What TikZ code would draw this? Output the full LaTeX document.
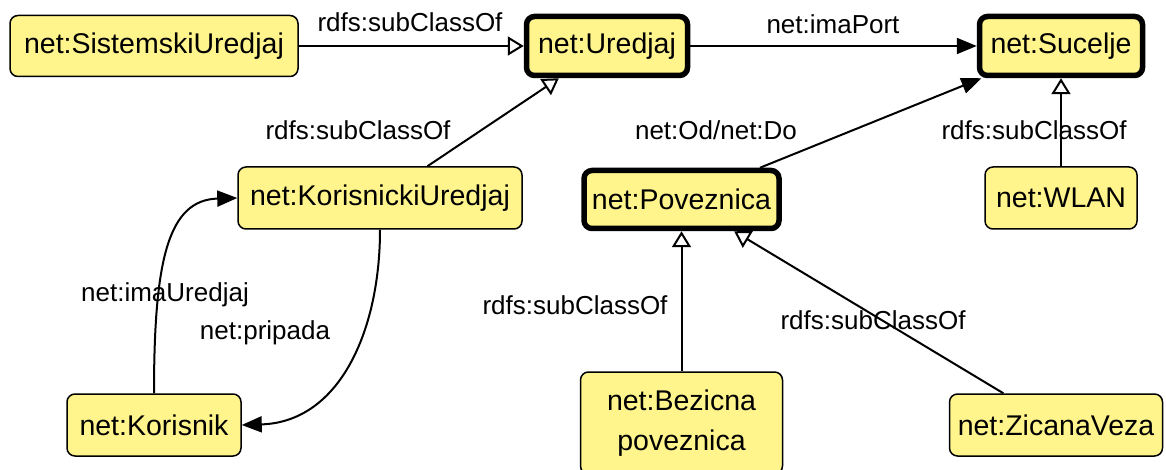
\documentclass[tikz,border=0pt]{standalone}
\usepackage{fontspec}
\setmainfont{Liberation Sans}
\usetikzlibrary{arrows.meta}
\definecolor{nodeyellow}{RGB}{255,245,140}
\newcommand{\nodefont}{\fontsize{28.5}{40}\selectfont}
\newcommand{\edgefont}{\fontsize{26}{30}\selectfont}
\tikzset{
  cls/.style={draw=black, rounded corners=8pt, fill=nodeyellow, line width=1.5pt,
    font=\nodefont, inner sep=0pt, align=center},
  keycls/.style={cls, line width=5.5pt},
  sub/.style={draw=black, line width=2pt, -{Triangle[open, length=16pt, width=19pt, line width=2pt]}},
  rel/.style={draw=black, line width=2pt, -{Triangle[length=20pt, width=16pt]}},
  lbl/.style={font=\edgefont, inner sep=0pt, text=black}
}
\begin{document}
\begin{tikzpicture}[x=1pt, y=-1pt]
\useasboundingbox (0,0) rectangle (1166,470);
% nodes
\node[cls, minimum width=288pt, minimum height=61pt] (sis) at (154,46) {net:SistemskiUredjaj};
\node[keycls, minimum width=161pt, minimum height=59pt] (ure) at (607,46) {net:Uredjaj};
\node[keycls, minimum width=163pt, minimum height=59pt] (suc) at (1061,46) {net:Sucelje};
\node[cls, minimum width=284pt, minimum height=62pt] (ku) at (380,198) {net:KorisnickiUredjaj};
\node[keycls, minimum width=195pt, minimum height=58pt] (pov) at (681.5,199.5) {net:Poveznica};
\node[cls, minimum width=152pt, minimum height=62pt] (wlan) at (1061,198) {net:WLAN};
\node[cls, minimum width=174pt, minimum height=62pt] (kor) at (154,425) {net:Korisnik};
\node[cls, minimum width=202pt, minimum height=102pt] (bez) at (681.5,423) {net:Bezicna\\poveznica};
\node[cls, minimum width=213pt, minimum height=62pt] (zic) at (1056,425) {net:ZicanaVeza};
% connectors
\draw[sub] (sis) -- (ure) node[lbl, at={(410,22)}] {rdfs:subClassOf};
\draw[rel] (ure) -- (suc) node[lbl, at={(833,24)}] {net:imaPort};
\draw[sub] (ku) -- (ure) node[lbl, at={(358,130)}] {rdfs:subClassOf};
\draw[rel] (pov) -- (suc) node[lbl, at={(716,130)}] {net:Od/net:Do};
\draw[sub] (wlan) -- (suc) node[lbl, at={(1034,130)}] {rdfs:subClassOf};
\draw[sub] (bez) -- (pov) node[lbl, at={(575,305)}] {rdfs:subClassOf};
\draw[sub] (zic) -- (pov) node[lbl, at={(873,320)}] {rdfs:subClassOf};
\draw[rel] (kor.north) .. controls (154,260) and (168,200) .. (ku.west)
  node[lbl, at={(165,295)}] {net:imaUredjaj};
\draw[rel] (ku.south) .. controls (380,330) and (340,422) .. (kor.east)
  node[lbl, at={(265,333)}] {net:pripada};
\end{tikzpicture}
\end{document}
